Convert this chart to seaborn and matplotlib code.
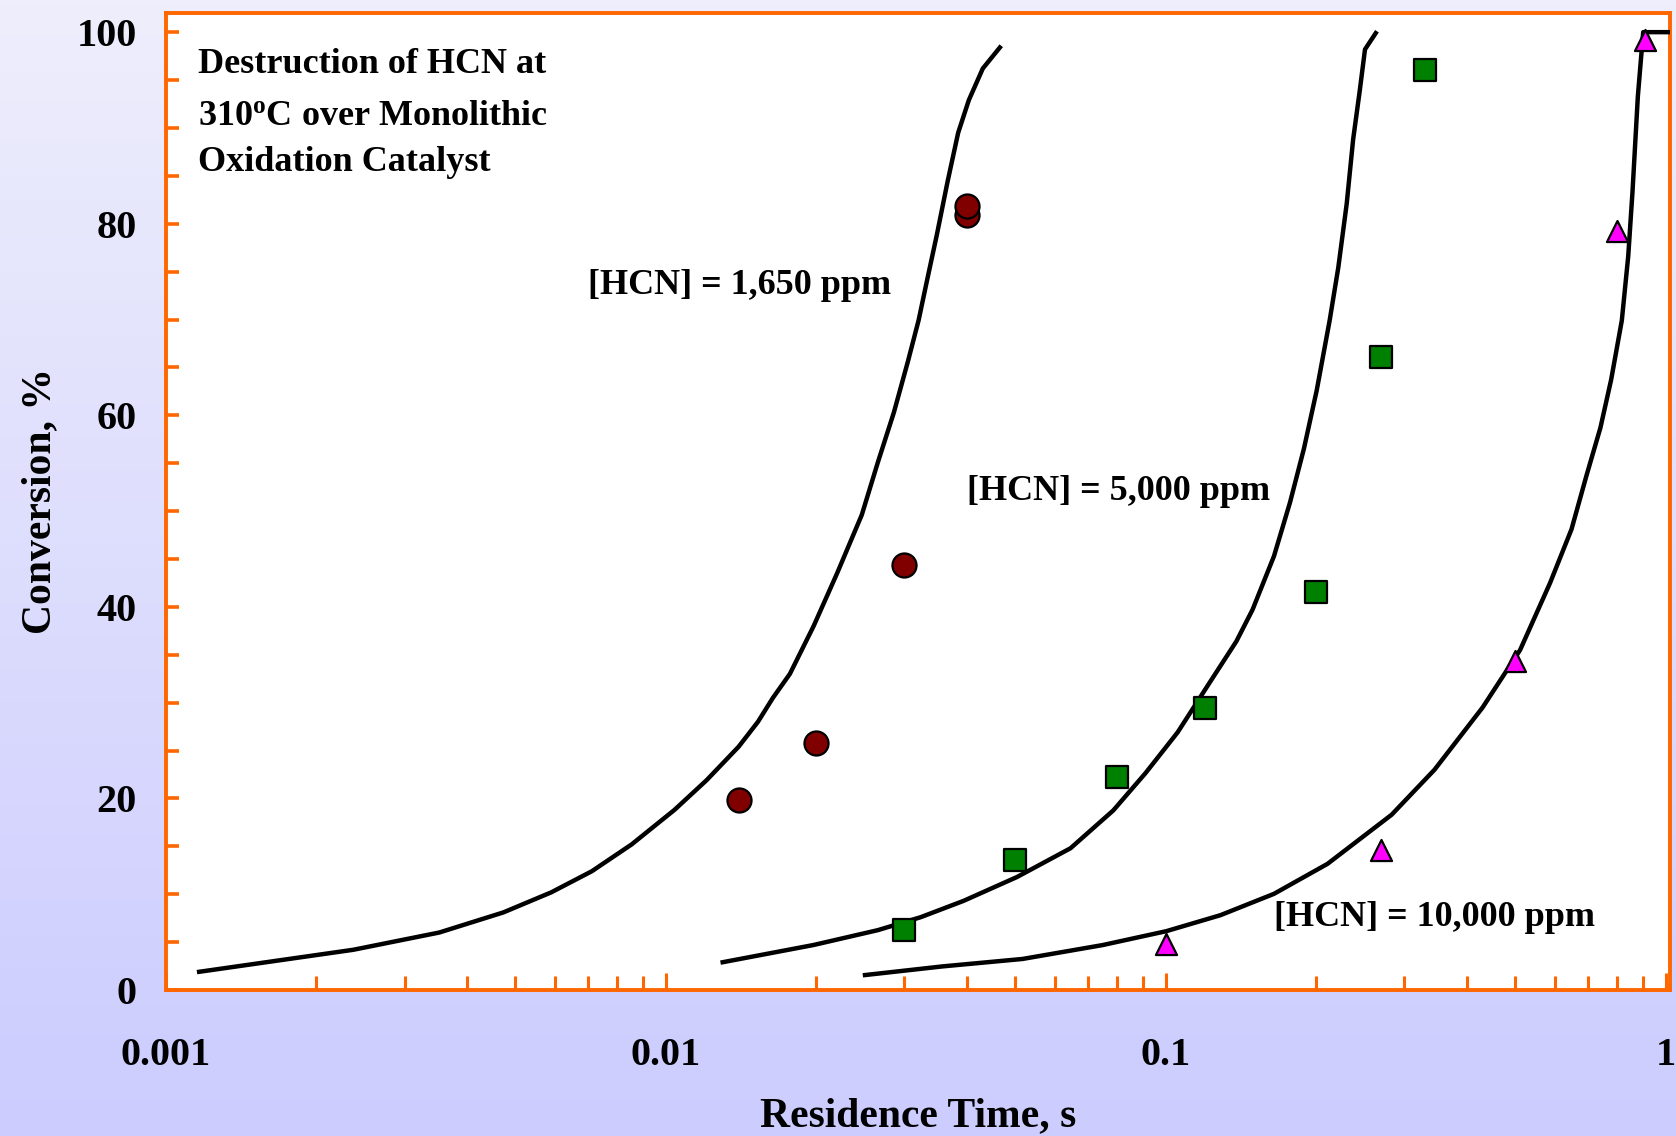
import numpy as np
import pandas as pd
import matplotlib
matplotlib.use("Agg")
import matplotlib.pyplot as plt
import seaborn as sns
from matplotlib.ticker import LogLocator, FixedLocator, FixedFormatter, MultipleLocator, NullFormatter

# ---------------- data ----------------
# measured points
pts_1650_x = [0.014, 0.020, 0.030, 0.040, 0.040]
pts_1650_y = [19.8, 25.8, 44.4, 80.9, 81.8]
pts_5000_x = [0.030, 0.050, 0.080, 0.120, 0.200, 0.270, 0.330]
pts_5000_y = [6.3, 13.6, 22.2, 29.4, 41.6, 66.1, 96.0]
pts_10000_x = [0.100, 0.270, 0.500, 0.800, 0.910]
pts_10000_y = [4.8, 14.6, 34.3, 79.2, 99.2]

# model curves
fit_1650_x = [0.001165, 0.00237, 0.00352, 0.00473, 0.0059, 0.00711, 0.00854, 0.0104,
              0.01206, 0.01398, 0.01528, 0.01637, 0.0177, 0.01975, 0.0220, 0.02465,
              0.02655, 0.02858, 0.03048, 0.03202, 0.0333, 0.03482, 0.0366, 0.03843,
              0.04036, 0.04304, 0.04656]
fit_1650_y = [1.9, 4.2, 6.0, 8.1, 10.2, 12.4, 15.2, 18.8, 21.9, 25.4, 28.0, 30.5, 33.0,
              38.0, 43.5, 49.6, 55.1, 60.3, 65.6, 69.9, 74.1, 78.8, 84.4, 89.5, 92.9,
              96.2, 98.4]
fit_5000_x = [0.01299, 0.01975, 0.02655, 0.03233, 0.03937, 0.05041, 0.06448, 0.07852,
              0.0911, 0.1056, 0.1224, 0.1384, 0.1491, 0.1646, 0.1772, 0.1889, 0.2004,
              0.2127, 0.2213, 0.2301, 0.2370, 0.2442, 0.2503, 0.2630]
fit_5000_y = [2.9, 4.7, 6.25, 7.6, 9.3, 11.8, 14.8, 18.75, 22.65, 26.9, 32.1, 36.4, 39.7,
              45.3, 50.9, 56.5, 62.6, 69.9, 75.4, 82.1, 88.8, 93.8, 98.2, 99.9]
fit_10000_x = [0.02502, 0.03569, 0.05167, 0.07475, 0.1002, 0.1286, 0.1646, 0.2106, 0.2830,
               0.3448, 0.4303, 0.5114, 0.5871, 0.648, 0.6942, 0.7403, 0.7777, 0.817,
               0.8414, 0.8581, 0.8796, 0.9016, 1.02]
fit_10000_y = [1.56, 2.46, 3.24, 4.69, 6.14, 7.81, 10.04, 13.17, 18.3, 23.0, 29.5, 35.5,
               42.5, 48.1, 53.7, 58.7, 63.7, 69.9, 76.6, 83.3, 93.3, 100.0, 100.0]

x_tick_values = [0.001, 0.01, 0.1, 1]
x_tick_labels = ["0.001", "0.01", "0.1", "1"]
y_tick_values = [0, 20, 40, 60, 80, 100]

curve_labels = ["[HCN] = 1,650 ppm", "[HCN] = 5,000 ppm", "[HCN] = 10,000 ppm"]
title_lines = ["Destruction of HCN at", "310$^{\\mathrm{o}}$C over Monolithic",
               "Oxidation Catalyst"]

# ---------------- style ----------------
plt.rcParams["font.family"] = ["Liberation Serif", "DejaVu Serif"]
plt.rcParams["font.weight"] = "bold"
plt.rcParams["mathtext.fontset"] = "custom"
plt.rcParams["mathtext.rm"] = "Liberation Serif:bold"
plt.rcParams["mathtext.it"] = "Liberation Serif:bold"
plt.rcParams["mathtext.bf"] = "Liberation Serif:bold"

ORANGE = "#FF6600"

fig = plt.figure(figsize=(16.76, 11.36), dpi=100)

# background gradient
bg = fig.add_axes([0, 0, 1, 1], zorder=-10)
top_c = np.array([238, 238, 252]) / 255.0
bot_c = np.array([204, 204, 255]) / 255.0
t = np.linspace(0, 1, 256)[:, None]
grad = (top_c[None, :] * (1 - t) + bot_c[None, :] * t)[:, None, :]
bg.imshow(grad, aspect="auto", extent=[0, 1, 0, 1], origin="upper")
bg.set_axis_off()

ax = fig.add_axes([166 / 1676, 1 - 990 / 1136, (1670 - 166) / 1676, (990 - 13) / 1136])
ax.set_facecolor("white")

ax.set_xscale("log")

# curves
for fx, fy in [(fit_1650_x, fit_1650_y), (fit_5000_x, fit_5000_y), (fit_10000_x, fit_10000_y)]:
    df = pd.DataFrame({"x": fx, "y": fy})
    sns.lineplot(data=df, x="x", y="y", ax=ax, color="black", lw=3.2,
                 sort=False, estimator=None, zorder=3)

# points
sns.scatterplot(x=pts_1650_x, y=pts_1650_y, ax=ax, marker="o", s=300, color="#800000",
                edgecolor="black", linewidth=1.6, zorder=4)
sns.scatterplot(x=pts_5000_x, y=pts_5000_y, ax=ax, marker="s", s=270, color="#008000",
                edgecolor="black", linewidth=1.6, zorder=4)
sns.scatterplot(x=pts_10000_x, y=pts_10000_y, ax=ax, marker="^", s=230, color="#FF00FF",
                edgecolor="black", linewidth=1.6, zorder=4)

ax.set_xlim(0.001, 1.02)
ax.set_ylim(0, 102)

ax.xaxis.set_major_locator(FixedLocator(x_tick_values))
ax.xaxis.set_major_formatter(FixedFormatter(x_tick_labels))
ax.xaxis.set_minor_locator(LogLocator(base=10, subs=np.arange(2, 10)))
ax.xaxis.set_minor_formatter(NullFormatter())
ax.yaxis.set_major_locator(FixedLocator(y_tick_values))
ax.yaxis.set_minor_locator(MultipleLocator(5))

for s in ax.spines.values():
    s.set_color(ORANGE)
    s.set_linewidth(2.8)

ax.tick_params(axis="x", which="major", direction="in", length=12, width=2.2,
               color=ORANGE, labelsize=29, pad=34, labelcolor="black")
ax.tick_params(axis="x", which="minor", direction="in", length=10, width=2.2,
               color=ORANGE)
ax.tick_params(axis="y", which="both", direction="in", length=9, width=2.6,
               color=ORANGE, labelsize=29, pad=21, labelcolor="black")
for lab in ax.get_xticklabels() + ax.get_yticklabels():
    lab.set_fontweight("bold")

ax.set_xlabel("Residence Time, s", fontsize=30, fontweight="bold")
ax.set_ylabel("Conversion, %", fontsize=30, fontweight="bold")
ax.xaxis.set_label_coords(0.5, -0.11)
ax.yaxis.set_label_coords(-0.071, 0.5)

# annotations
ax.text(0.00116, 96.6, title_lines[0], fontsize=26, fontweight="bold", va="center", ha="left")
ax.text(0.00116, 91.2, title_lines[1], fontsize=26, fontweight="bold", va="center", ha="left")
ax.text(0.00116, 86.4, title_lines[2], fontsize=26, fontweight="bold", va="center", ha="left")

ax.text(0.0070, 73.5, curve_labels[0], fontsize=26, fontweight="bold", va="center", ha="left")
ax.text(0.0400, 52.0, curve_labels[1], fontsize=26, fontweight="bold", va="center", ha="left")
ax.text(0.1646, 7.6, curve_labels[2], fontsize=26, fontweight="bold", va="center", ha="left")

ax.grid(False)
fig.savefig("out.png", dpi=100)
